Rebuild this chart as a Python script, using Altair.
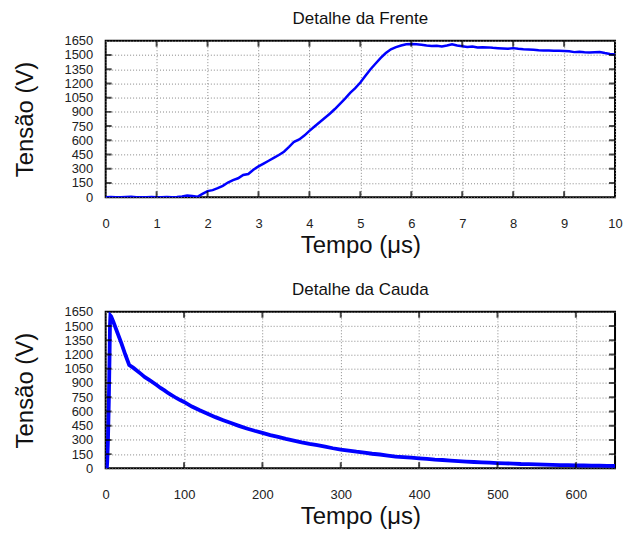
import altair as alt
import pandas as pd

# ---- Data ----
front_t = [0.0, 0.1, 0.2, 0.3, 0.4, 0.5, 0.6, 0.7, 0.8, 0.9,
           1.0, 1.1, 1.2, 1.3, 1.4, 1.5, 1.6, 1.7, 1.8, 1.9,
           2.0, 2.1, 2.2, 2.3, 2.4, 2.5, 2.6, 2.7, 2.8, 2.9,
           3.0, 3.1, 3.2, 3.3, 3.4, 3.5, 3.6, 3.7, 3.8, 3.9,
           4.0, 4.1, 4.2, 4.3, 4.4, 4.5, 4.6, 4.7, 4.8, 4.9,
           5.0, 5.1, 5.2, 5.3, 5.4, 5.5, 5.6, 5.7, 5.8, 5.9,
           6.0, 6.1, 6.2, 6.3, 6.4, 6.5, 6.6, 6.7, 6.8, 6.9,
           7.0, 7.1, 7.2, 7.3, 7.4, 7.5, 7.6, 7.7, 7.8, 7.9,
           8.0, 8.1, 8.2, 8.3, 8.4, 8.5, 8.6, 8.7, 8.8, 8.9,
           9.0, 9.1, 9.2, 9.3, 9.4, 9.5, 9.6, 9.7, 9.8, 9.9, 10.0]
front_v = [0, 2, 0, 0, 3, 6, 0, 0, 0, 2,
           0, 0, 3, 0, 2, 8, 18, 12, 5, 35,
           65, 75, 95, 120, 155, 180, 200, 235, 245, 290,
           325, 355, 385, 415, 445, 480, 530, 585, 610, 650,
           700, 745, 790, 835, 880, 930, 985, 1040, 1100, 1150,
           1210, 1280, 1350, 1410, 1470, 1520, 1560, 1582, 1600, 1612,
           1615, 1612, 1608, 1600, 1595, 1598, 1590, 1600, 1612, 1600,
           1592, 1585, 1590, 1578, 1582, 1580, 1575, 1572, 1568, 1565,
           1572, 1565, 1560, 1558, 1555, 1550, 1548, 1548, 1545, 1545,
           1542, 1538, 1530, 1533, 1528, 1525, 1528, 1532, 1520, 1510, 1505]

tail_t = [0, 1, 1.5, 2, 3, 4, 5, 5.5, 6, 7, 10, 15, 20, 25, 30,
          35, 40, 45, 50, 55, 60, 65, 70, 75, 80, 85, 90, 95, 100,
          110, 120, 130, 140, 150, 160, 170, 180, 190, 200,
          210, 220, 230, 240, 250, 260, 270, 280, 290, 300,
          310, 320, 330, 340, 350, 360, 370, 380, 390, 400,
          410, 420, 430, 440, 450, 460, 470, 480, 490, 500,
          510, 520, 530, 540, 550, 560, 570, 580, 590, 600,
          610, 620, 630, 640, 650]
tail_v = [0, 0, 5, 70, 320, 700, 1210, 1520, 1610, 1600, 1540, 1430, 1320, 1200, 1090,
          1062, 1030, 996, 962, 935, 908, 878, 848, 822, 792, 768, 742, 720, 700,
          652, 612, 575, 540, 508, 478, 448, 420, 396, 374,
          350, 332, 310, 292, 274, 258, 244, 228, 212, 198,
          188, 176, 166, 154, 146, 135, 124, 118, 112, 106,
          100, 93, 88, 82, 77, 72, 67, 63, 60, 56,
          53, 50, 46, 44, 42, 40, 37, 35, 34, 32,
          30, 29, 28, 27, 26]

y_ticks = [0, 150, 300, 450, 600, 750, 900, 1050, 1200, 1350, 1500, 1650]
y_inner = [150, 300, 450, 600, 750, 900, 1050, 1200, 1350, 1500]
front_xticks = [0, 1, 2, 3, 4, 5, 6, 7, 8, 9, 10]
front_xinner = [1, 2, 3, 4, 5, 6, 7, 8, 9]
tail_xticks = [0, 100, 200, 300, 400, 500, 600]
tail_xinner = [100, 200, 300, 400, 500, 600]

W, H = 511, 157


def panel(t, v, xdom, xticks, xinner, title, lw):
    df = pd.DataFrame({"t": t, "v": v})
    xs = alt.Scale(domain=xdom, nice=False, zero=False)
    ys = alt.Scale(domain=[0, 1650], nice=False)
    xa = alt.Axis(values=xticks, title="Tempo (μs)", format="d")
    ya = alt.Axis(values=y_ticks, title="Tensão (V)", format="d")
    line = alt.Chart(df).mark_line(color="#0000ff", strokeWidth=lw, clip=True).encode(
        x=alt.X("t:Q", scale=xs, axis=xa, title="Tempo (μs)"),
        y=alt.Y("v:Q", scale=ys, axis=ya, title="Tensão (V)"),
    )
    ydf = pd.DataFrame({"y": y_inner})
    xdf = pd.DataFrame({"x": xinner})
    tick_kw = dict(size=12, thickness=2, color="black", clip=True)
    yl = alt.Chart(ydf).mark_tick(orient="horizontal", **tick_kw).encode(
        x=alt.datum(xdom[0], scale=xs, axis=xa, title="Tempo (μs)"),
        y=alt.Y("y:Q", scale=ys, axis=ya, title="Tensão (V)"))
    yr = alt.Chart(ydf).mark_tick(orient="horizontal", **tick_kw).encode(
        x=alt.datum(xdom[1], scale=xs, axis=xa, title="Tempo (μs)"),
        y=alt.Y("y:Q", scale=ys, axis=ya, title="Tensão (V)"))
    xb = alt.Chart(xdf).mark_tick(orient="vertical", **tick_kw).encode(
        x=alt.X("x:Q", scale=xs, axis=xa, title="Tempo (μs)"),
        y=alt.datum(0, scale=ys, axis=ya, title="Tensão (V)"))
    xt = alt.Chart(xdf).mark_tick(orient="vertical", **tick_kw).encode(
        x=alt.X("x:Q", scale=xs, axis=xa, title="Tempo (μs)"),
        y=alt.datum(1650, scale=ys, axis=ya, title="Tensão (V)"))
    return alt.layer(line, yl, yr, xb, xt).properties(
        width=W, height=H,
        title=alt.Title(title, fontSize=17, fontWeight="normal",
                        font="Liberation Sans", color="#111", offset=7))


top = panel(front_t, front_v, [0, 10], front_xticks, front_xinner,
            "Detalhe da Frente", 2.5)
bottom = panel(tail_t, tail_v, [0, 650], tail_xticks, tail_xinner,
               "Detalhe da Cauda", 3.8)

chart = alt.vconcat(top, bottom, spacing=22).properties(
    padding={"left": 5, "top": 0, "right": 0, "bottom": 0}
).configure(font="Liberation Sans").configure_view(
    stroke="black", strokeWidth=2
).configure_axis(
    domain=False, tickSize=0, grid=True, gridColor="#888",
    gridDash=[1, 2], gridWidth=1, labelFontSize=13, labelColor="#222",
    labelFont="Liberation Sans", titleFont="Liberation Sans",
    titleFontSize=24, titleFontWeight="normal", titleColor="#111",
    labelFlush=False
).configure_axisX(labelPadding=20, titlePadding=3
).configure_axisY(labelPadding=13, titlePadding=26)

chart.save("out.html", embed_options={"renderer": "svg", "actions": False})
